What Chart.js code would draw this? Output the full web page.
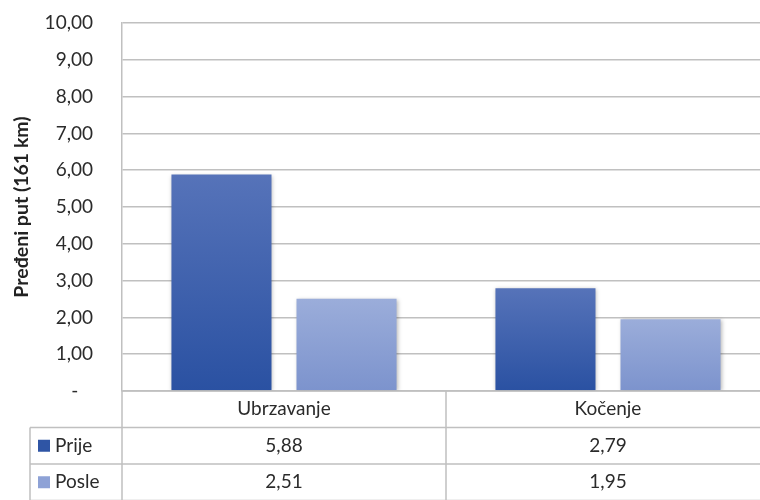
<!DOCTYPE html>
<html>
<head>
<meta charset="utf-8">
<script src="https://cdn.jsdelivr.net/npm/chart.js@4.4.0/dist/chart.umd.min.js"></script>
<style>
html,body{margin:0;padding:0;background:#fff;overflow:hidden;}
#wrap{width:770px;height:500px;position:relative;}
</style>
</head>
<body>
<div id="wrap"><canvas id="c"></canvas></div>
<script>
const categories = ['Ubrzavanje', 'Kočenje'];
const seriesNames = ['Prije', 'Posle'];
const prije = [5.88, 2.79];
const posle = [2.51, 1.95];
const yTickLabels = ['-   ', '1,00', '2,00', '3,00', '4,00', '5,00', '6,00', '7,00', '8,00', '9,00', '10,00'];
const yTitle = 'Pređeni put (161 km)';

const FONT = 'Lato, "Liberation Sans", sans-serif';
const TEXT = '#2b2b2b';
const GRID = '#c0c0c0';
const legendColors = ['#2f55a5', '#8ea2d6'];
const gradStops = [['#5673b9', '#2a51a2'], ['#9badda', '#7c93cd']];

function fmt(v){ return v.toFixed(2).replace('.', ','); }

function barGradient(ctx, di){
  const chart = ctx.chart;
  if (!chart.chartArea || ctx.raw === undefined) return gradStops[di][1];
  const y = chart.scales.y;
  const top = y.getPixelForValue(ctx.raw);
  const bot = y.getPixelForValue(0);
  const g = chart.ctx.createLinearGradient(0, top, 0, bot);
  g.addColorStop(0, gradStops[di][0]);
  g.addColorStop(1, gradStops[di][1]);
  return g;
}

const shadowPlugin = {
  id: 'shadow',
  beforeDatasetsDraw(chart){
    const c = chart.ctx; c.save();
    c.shadowColor = 'rgba(0,0,0,0.28)'; c.shadowBlur = 4; c.shadowOffsetX = 1; c.shadowOffsetY = 1;
  },
  afterDatasetsDraw(chart){ chart.ctx.restore(); }
};

const tablePlugin = {
  id: 'dataTable',
  afterDraw(chart){
    const c = chart.ctx;
    const a = chart.chartArea;
    const x = chart.scales.x;
    const rowH = 36.5;
    const y0 = a.bottom;
    const tableLeft = 30;
    const right = chart.width;
    c.save();
    c.strokeStyle = GRID; c.lineWidth = 1.5;
    c.beginPath();
    c.moveTo(a.left, y0); c.lineTo(right, y0);
    for (let r = 1; r <= 3; r++){
      c.moveTo(tableLeft, y0 + rowH*r); c.lineTo(right, y0 + rowH*r);
    }
    c.moveTo(a.left, y0); c.lineTo(a.left, y0 + rowH*3);
    c.moveTo(tableLeft, y0 + rowH); c.lineTo(tableLeft, y0 + rowH*3);
    for (let i = 0; i < categories.length - 1; i++){
      const xm = (x.getPixelForValue(i) + x.getPixelForValue(i+1)) / 2;
      c.moveTo(xm, y0); c.lineTo(xm, y0 + rowH*3);
    }
    c.stroke();
    c.fillStyle = TEXT;
    c.font = '19px ' + FONT;
    c.textAlign = 'center'; c.textBaseline = 'middle';
    categories.forEach((cat, i) => {
      c.fillText(cat, x.getPixelForValue(i), y0 + rowH*0.5);
    });
    const rows = [prije, posle];
    rows.forEach((vals, r) => {
      const cy = y0 + rowH*(r + 1.5);
      vals.forEach((v, i) => {
        c.textAlign = 'center';
        c.fillStyle = TEXT;
        c.fillText(fmt(v), x.getPixelForValue(i), cy);
      });
      c.fillStyle = legendColors[r];
      c.fillRect(38, cy - 6, 12, 12);
      c.fillStyle = TEXT;
      c.textAlign = 'left';
      c.fillText(seriesNames[r], 55, cy);
    });
    c.restore();
  }
};

new Chart(document.getElementById('c'), {
  type: 'bar',
  data: {
    labels: categories,
    datasets: [
      { label: seriesNames[0], data: prije, backgroundColor: (ctx) => barGradient(ctx, 0),
        barPercentage: 0.8, categoryPercentage: 0.772 },
      { label: seriesNames[1], data: posle, backgroundColor: (ctx) => barGradient(ctx, 1),
        barPercentage: 0.8, categoryPercentage: 0.772 }
    ]
  },
  options: {
    responsive: true,
    maintainAspectRatio: false,
    animation: false,
    layout: { padding: { top: 23, bottom: 109, left: 0, right: 0 } },
    plugins: { legend: { display: false }, tooltip: { enabled: false } },
    scales: {
      x: { display: false },
      y: {
        min: 0, max: 10,
        ticks: {
          stepSize: 1,
          padding: 0,
          color: TEXT,
          font: { family: FONT, size: 19 },
          callback: (v, i) => yTickLabels[i]
        },
        grid: { color: GRID, lineWidth: 1.5, drawTicks: true, tickLength: 29, tickColor: 'rgba(0,0,0,0)' },
        border: { display: true, color: GRID, width: 1.5 },
        title: {
          display: true, text: yTitle, color: '#222222',
          font: { family: FONT, size: 19.5, weight: 'bold' },
          padding: { top: 10, bottom: 0 }
        },
        afterFit: (s) => { s.width = 122; }
      }
    }
  },
  plugins: [shadowPlugin, tablePlugin]
});
</script>
</body>
</html>
